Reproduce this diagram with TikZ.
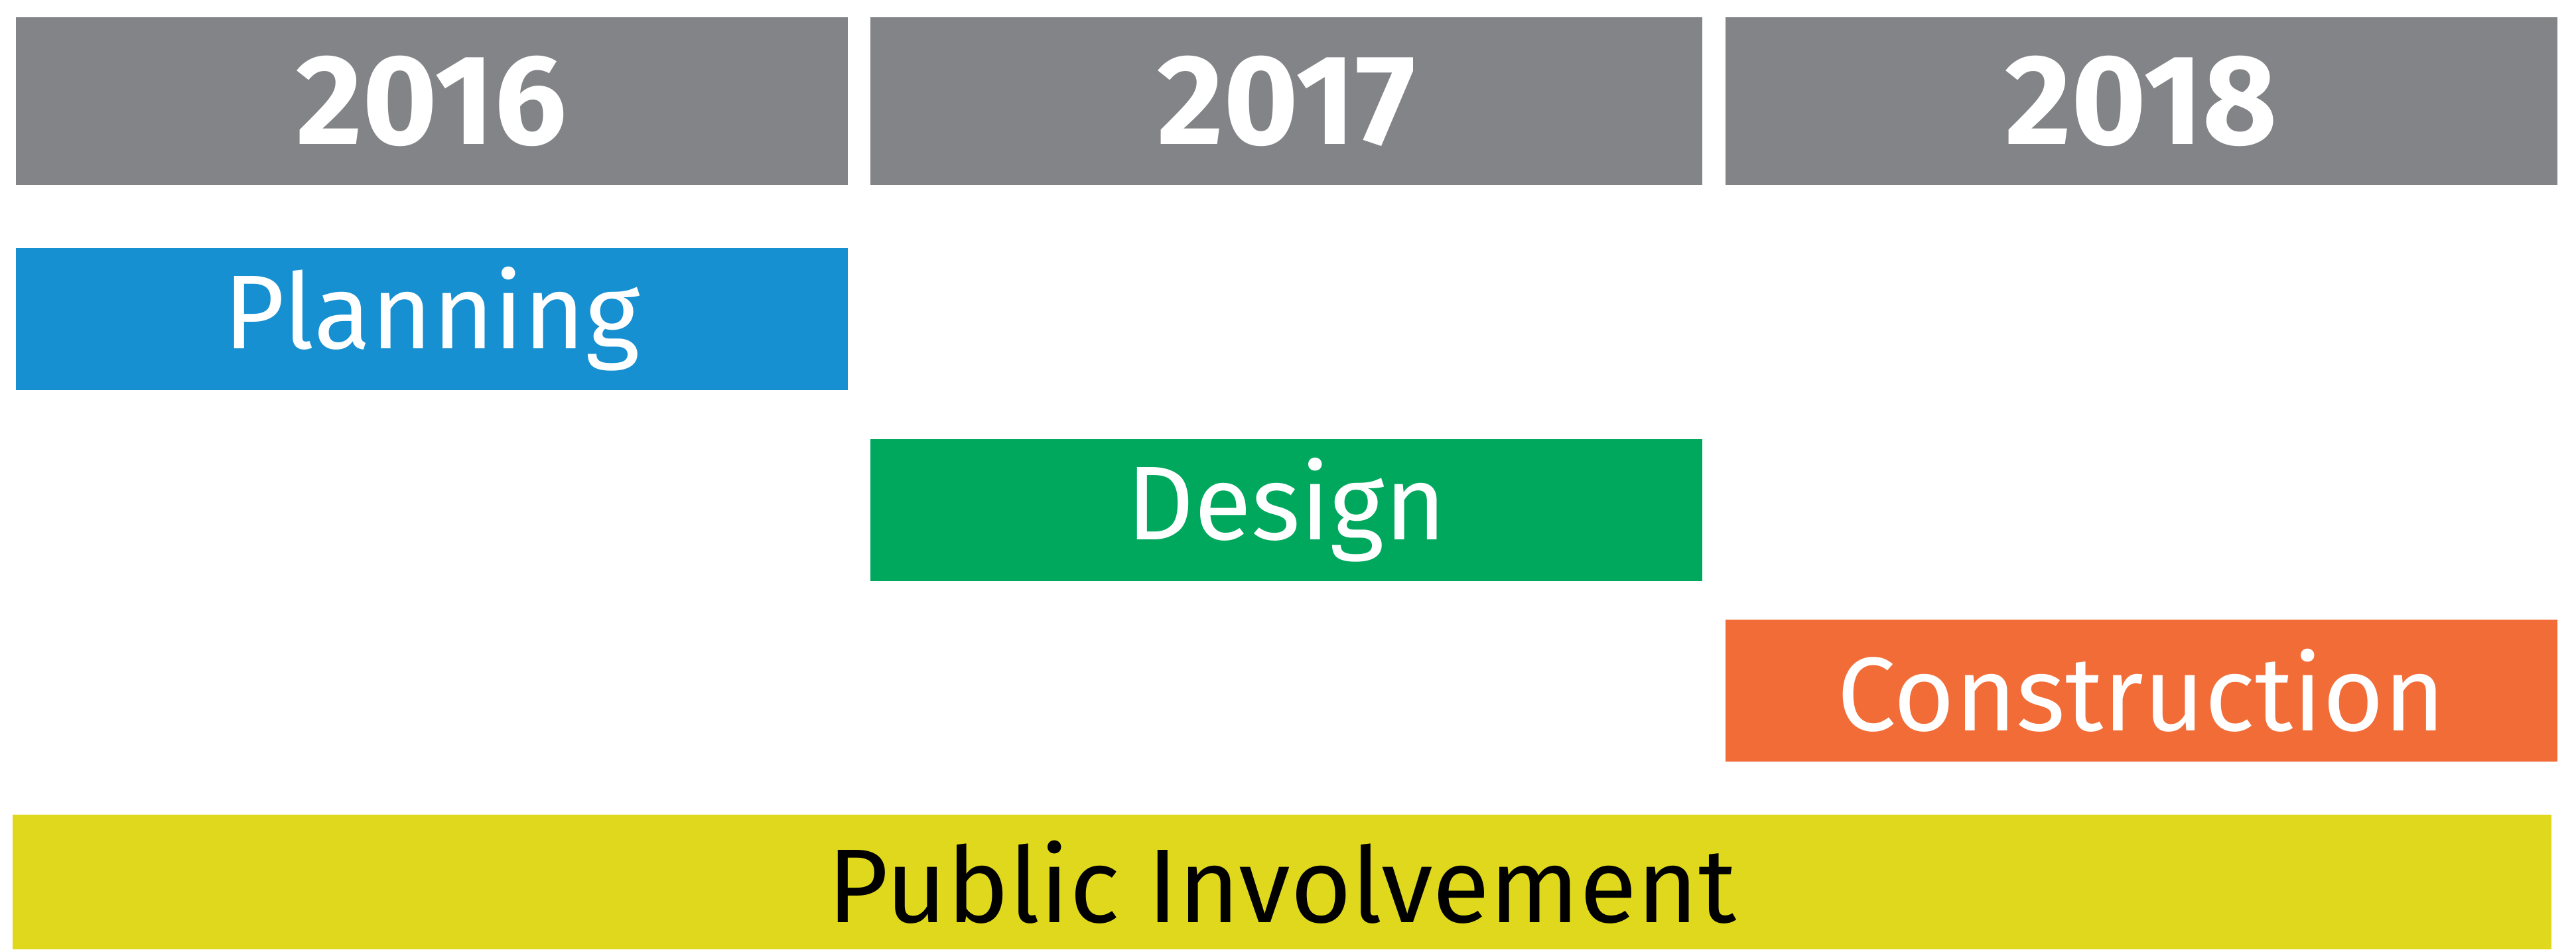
\documentclass[tikz,border=0pt]{standalone}
\usepackage{fontspec}
\setmainfont{Fira Sans}
\usepackage{tikz}
\usetikzlibrary{positioning}
\definecolor{yeargray}{HTML}{838488}
\definecolor{planblue}{HTML}{1790D2}
\definecolor{designgreen}{HTML}{00A85E}
\definecolor{buildorange}{HTML}{F26C38}
\definecolor{publicyellow}{HTML}{E0D81D}

\begin{document}
\begin{tikzpicture}[node distance=0.33cm,
    yearbox/.style={fill=yeargray,text=white,minimum width=12.54cm,minimum height=2.53cm,
      inner sep=0pt,font=\fontsize{55}{55}\selectfont\bfseries},
    phasebox/.style={text=white,minimum width=12.54cm,minimum height=2.14cm,
      inner sep=0pt,font=\fontsize{45}{45}\selectfont}]
        \useasboundingbox (0,0) rectangle (38.83,14.32);
        % years
        \node[yearbox,anchor=north west] (y2016) at (0.23,14.07) {2016};
        \node[yearbox,right=of y2016] (y2017) {2017};
        \node[yearbox,right=of y2017] (y2018) {2018};
        % phases
        \node[phasebox,fill=planblue,anchor=north] (planning) at ([yshift=-0.94cm]y2016.south) {Planning};
        \node[phasebox,fill=designgreen,anchor=north] (design) at ([yshift=-3.82cm]y2017.south) {Design};
        \node[phasebox,fill=buildorange,anchor=north] (construction) at ([yshift=-6.54cm]y2018.south) {Construction};
        \node[phasebox,fill=publicyellow,text=black,minimum width=38.27cm,minimum height=2.03cm,anchor=south west]
          (public) at (0.18,0) {Public Involvement};
    \end{tikzpicture}
\end{document}
